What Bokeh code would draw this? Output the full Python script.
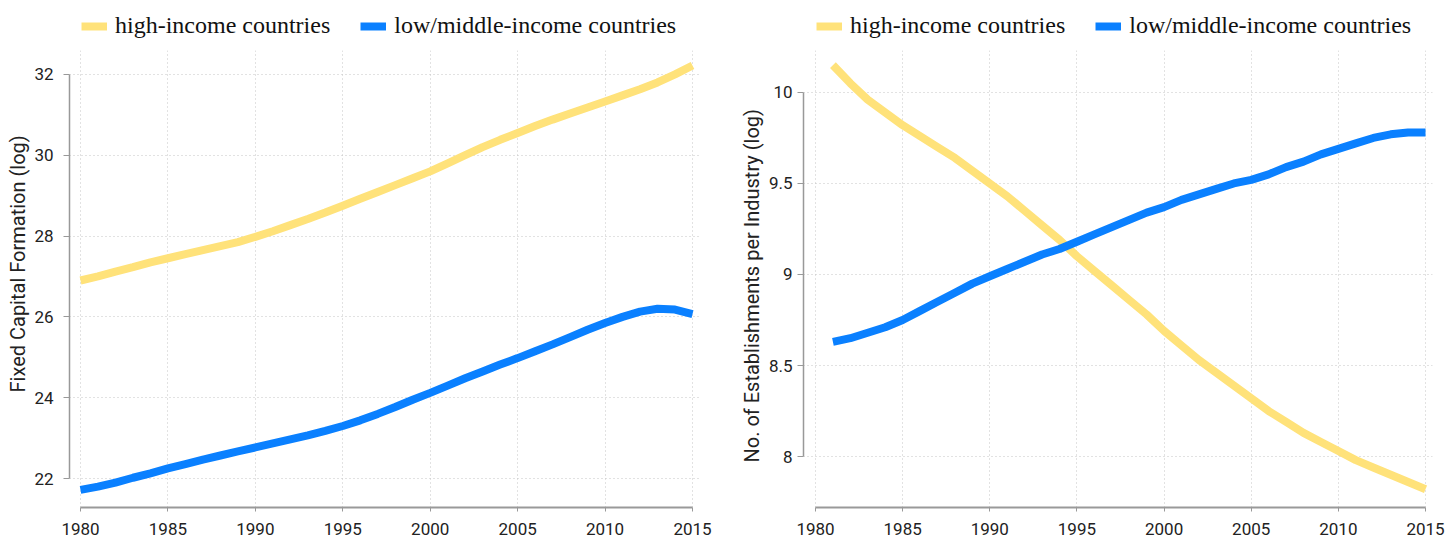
from bokeh.plotting import figure
from bokeh.layouts import row
from bokeh.models import Legend, LegendItem, FixedTicker, Range1d, BoxAnnotation, Title
from bokeh.embed import file_html
from bokeh.resources import INLINE

# ---- data ----
years_left = list(range(1980, 2016))
capital_high = [26.9, 27.0, 27.12, 27.23, 27.35, 27.45, 27.55, 27.65, 27.75, 27.85,
                27.98, 28.12, 28.27, 28.42, 28.58, 28.75, 28.92, 29.09, 29.26, 29.43,
                29.6, 29.8, 30.0, 30.2, 30.38, 30.55, 30.72, 30.88, 31.03, 31.18,
                31.33, 31.48, 31.63, 31.8, 32.0, 32.22]
capital_low = [21.72, 21.8, 21.9, 22.02, 22.13, 22.25, 22.36, 22.47, 22.57, 22.67,
               22.77, 22.87, 22.97, 23.07, 23.18, 23.3, 23.44, 23.6, 23.77, 23.95,
               24.12, 24.3, 24.48, 24.65, 24.82, 24.98, 25.15, 25.32, 25.5, 25.68,
               25.85, 26.0, 26.13, 26.2, 26.18, 26.07]

years_right = list(range(1981, 2016))
estab_high = [10.15, 10.05, 9.96, 9.89, 9.82, 9.76, 9.7, 9.64, 9.57,
              9.5, 9.43, 9.35, 9.27, 9.19, 9.1, 9.02, 8.94, 8.86, 8.78,
              8.69, 8.61, 8.53, 8.46, 8.39, 8.32, 8.25, 8.19, 8.13, 8.08,
              8.03, 7.98, 7.94, 7.9, 7.86, 7.82]
estab_low = [8.63, 8.65, 8.68, 8.71, 8.75, 8.8, 8.85, 8.9, 8.95,
             8.99, 9.03, 9.07, 9.11, 9.14, 9.18, 9.22, 9.26, 9.3, 9.34,
             9.37, 9.41, 9.44, 9.47, 9.5, 9.52, 9.55, 9.59, 9.62, 9.66,
             9.69, 9.72, 9.75, 9.77, 9.78, 9.78]

x_ticks = [1980, 1985, 1990, 1995, 2000, 2005, 2010, 2015]
left_yticks = [22, 24, 26, 28, 30, 32]
right_yticks = [8, 8.5, 9, 9.5, 10]
right_ylabels = ["8", "8.5", "9", "9.5", "10"]
series_names = ["high-income countries", "low/middle-income countries"]
y_titles = ["Fixed Capital Formation (log)", "No. of Establishments per Industry (log)"]

YELLOW = "#FFE27A"
BLUE = "#0A80FF"
TICK_FONT = "Roboto"
HEIGHT = 538
BORDER_BOTTOM = 31
FRAME_H = HEIGHT - BORDER_BOTTOM


def make_fig(xs_h, ys_h, xs_l, ys_l, ylabel, yticks, ylabels, xr, yr, plot_top,
             width, border_left, border_right, ybounds, legend_x, ystandoff,
             title_offset):
    p = figure(width=width, height=HEIGHT, output_backend="svg", toolbar_location=None,
               x_range=Range1d(*xr), y_range=Range1d(*yr),
               min_border_left=border_left, min_border_right=border_right,
               min_border_top=0, min_border_bottom=BORDER_BOTTOM)
    p.outline_line_color = None
    r1 = p.line(xs_h, ys_h, line_color=YELLOW, line_width=8)
    r2 = p.line(xs_l, ys_l, line_color=BLUE, line_width=8)

    # blank strip above the plotting area where the legend sits
    p.add_layout(BoxAnnotation(bottom=plot_top, fill_color="white", fill_alpha=1,
                               line_alpha=0))

    legend = Legend(items=[LegendItem(label=series_names[0], renderers=[r1]),
                           LegendItem(label=series_names[1], renderers=[r2])],
                    orientation="horizontal", location=(legend_x, FRAME_H - 39))
    legend.label_text_font = "Liberation Serif"
    legend.label_text_font_size = "24px"
    legend.label_text_color = "#111111"
    legend.glyph_width = 26
    legend.glyph_height = 10
    legend.spacing = 30
    legend.label_standoff = 8
    legend.padding = 2
    legend.margin = 0
    legend.border_line_color = None
    legend.background_fill_alpha = 0
    p.add_layout(legend, "center")

    for ax in (p.xaxis[0], p.yaxis[0]):
        ax.axis_line_color = "#999999"
        ax.major_tick_line_color = "#999999"
        ax.major_tick_in = 0
        ax.minor_tick_line_color = None
        ax.major_label_text_font = TICK_FONT
        ax.major_label_text_font_size = "17px"
        ax.major_label_text_color = "#222222"
    p.xaxis.major_tick_out = 4
    p.xaxis.major_label_standoff = 11
    p.yaxis.major_tick_out = 6
    p.yaxis.major_label_standoff = ystandoff
    p.xaxis.axis_line_width = 2
    p.yaxis.axis_line_width = 1.5
    p.xaxis.ticker = FixedTicker(ticks=x_ticks)
    p.yaxis.ticker = FixedTicker(ticks=yticks)
    p.yaxis.major_label_overrides = {t: l for t, l in zip(yticks, ylabels)}
    p.xaxis.bounds = (1980, 2015)
    p.yaxis.bounds = ybounds

    p.add_layout(Title(text=ylabel, align="left", offset=title_offset,
                       text_font="Roboto", text_font_style="normal",
                       text_font_size="20px", text_color="#222222", standoff=3),
                 "left")

    p.grid.grid_line_color = "#c4c4c4"
    p.grid.grid_line_dash = "1 3"
    p.grid.grid_line_width = 1
    return p


left = make_fig(years_left, capital_high, years_left, capital_low,
                y_titles[0], left_yticks,
                [str(t) for t in left_yticks], (1979.371, 2015.40), (21.284, 33.827),
                32.593, 728, 69, 29, (22, 32), 12, 10, 115)
right = make_fig(years_right, estab_high, years_right, estab_low,
                 y_titles[1], right_yticks,
                 right_ylabels, (1979.312, 2015.40), (7.72, 10.505), 10.231,
                 717, 75, 13, (8, 10), 13, 5, 45)

layout = row(left, right)
open("out.html", "w").write(file_html(layout, INLINE))
